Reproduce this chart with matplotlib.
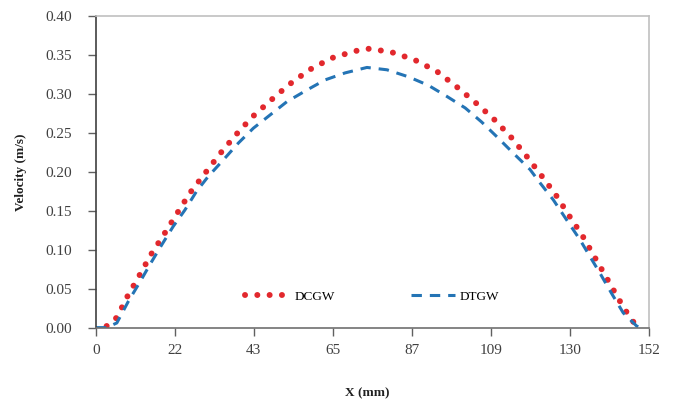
import matplotlib
matplotlib.use("Agg")
import matplotlib.pyplot as plt
import numpy as np

x_dcgw = [3.0, 5.8, 8.7, 12.0, 15.2, 18.8, 22.4, 25.9, 30.0, 34.1, 38.4, 42.9,
          47.9, 53.1, 58.7, 64.8, 71.2, 74.9, 81.0, 87.5, 93.7, 99.2, 104.3,
          109.3, 114.0, 118.2, 122.3, 126.3, 130.0, 133.7, 137.0, 140.2,
          143.6, 147.0, 149.1]
v_dcgw = [0.002, 0.013, 0.040, 0.067, 0.094, 0.120, 0.147, 0.173, 0.198,
          0.223, 0.247, 0.270, 0.291, 0.312, 0.331, 0.346, 0.355, 0.358,
          0.354, 0.344, 0.329, 0.309, 0.289, 0.268, 0.245, 0.221, 0.196,
          0.171, 0.144, 0.118, 0.091, 0.065, 0.037, 0.011, 0.000]

x_dtgw = [0, 3.0, 5.8, 9.0, 12.2, 14.9, 18.1, 21.3, 24.5, 27.7, 30.9, 35.0,
          39.2, 43.3, 47.9, 52.5, 58.0, 63.0, 68.5, 74.5, 80.0, 85.9, 91.4,
          96.4, 101.5, 106.0, 110.2, 114.7, 119.3, 122.1, 125.7, 129.4, 133.0,
          135.8, 138.5, 141.7, 144.9, 148.6, 149.5]
v_dtgw = [0, 0, 0.006, 0.034, 0.059, 0.081, 0.106, 0.130, 0.151, 0.175, 0.194,
          0.215, 0.237, 0.256, 0.273, 0.290, 0.305, 0.318, 0.327, 0.334, 0.331,
          0.322, 0.311, 0.297, 0.282, 0.264, 0.245, 0.224, 0.203, 0.1855,
          0.164, 0.138, 0.113, 0.091, 0.070, 0.044, 0.019, 0.002, 0.0]

x_ticks = [0, 22, 43, 65, 87, 109, 130, 152]
y_ticks = [0.00, 0.05, 0.10, 0.15, 0.20, 0.25, 0.30, 0.35, 0.40]

plt.rcParams['font.family'] = ['Liberation Serif', 'DejaVu Serif']

fig = plt.figure(figsize=(6.74, 4.01), dpi=100)
ax = fig.add_axes([0.142, 0.183, 0.821, 0.777])

ax.plot(x_dcgw, v_dcgw, color='#e2282d', linewidth=4.3,
        linestyle=(0, (0.01, 2.05)), dash_capstyle='round', label='DCGW')
ax.plot(x_dtgw, v_dtgw, color='#2474b5', linewidth=2.2,
        linestyle=(0, (3.4, 2.6)), dash_capstyle='butt', label='DTGW')

ax.set_xlim(0, 152)
ax.set_ylim(0, 0.40)
tick_pos = np.linspace(0, 152, len(x_ticks))
ax.set_xticks(tick_pos)
ax.set_xticklabels([str(t) for t in x_ticks])
ax.set_yticks(y_ticks)
ax.set_yticklabels(['%.2f' % t for t in y_ticks])

ax.tick_params(axis='both', direction='out', length=6, width=1,
               colors='#606060', labelcolor='#404040', labelsize=11)
ax.tick_params(axis='x', pad=6)
ax.tick_params(axis='y', pad=11)

ax.spines['left'].set_color('#404040')
ax.spines['bottom'].set_color('#707070')
ax.spines['top'].set_color('#c0c0c0')
ax.spines['right'].set_color('#c0c0c0')
for s in ax.spines.values():
    s.set_linewidth(1.2)

ax.set_xlabel('X (mm)', fontsize=9.5, fontweight='bold', color='#202020')
ax.set_ylabel('Velocity (m/s)', fontsize=9.5, fontweight='bold', color='#202020')
ax.xaxis.set_label_coords(0.49, -0.19)
ax.yaxis.set_label_coords(-0.125, 0.5)

ax.legend(loc='center', bbox_to_anchor=(0.50, 0.10), ncol=2, frameon=False,
          fontsize=9.5, handlelength=3.3, columnspacing=5.8, handletextpad=0.4)

fig.savefig('out.png', dpi=100, facecolor='white')
